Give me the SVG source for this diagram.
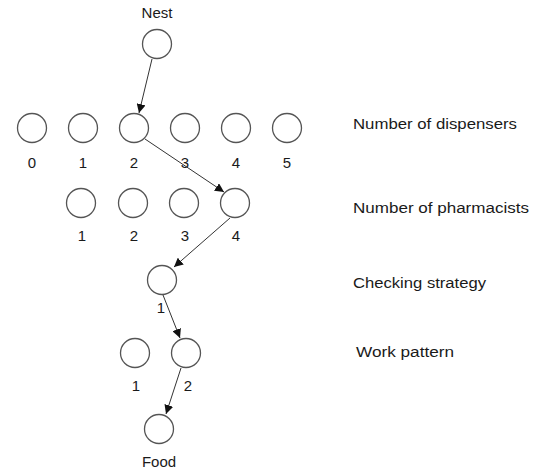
<svg xmlns="http://www.w3.org/2000/svg" width="538" height="474" viewBox="0 0 538 474">
<style>
text{font-family:"Liberation Sans",Arial,sans-serif;font-size:15px;fill:#1a1a1a}
.n{text-anchor:middle}
.l{font-size:15.5px}
circle{fill:#fff;stroke:#555;stroke-width:1.3}
.c line{stroke:#333;stroke-width:1}
</style>
<defs>
<marker id="a" viewBox="0 0 10 10" refX="10" refY="5" markerWidth="9" markerHeight="9" markerUnits="userSpaceOnUse" orient="auto"><path d="M0,0L10,5L0,10z" fill="#111"/></marker>
</defs>
<rect width="538" height="474" fill="#fff"/>
<g id="nest"><circle cx="157" cy="44" r="14.5"/><text class="n" x="157" y="18">Nest</text></g>
<g id="d0"><circle cx="32" cy="128" r="14.5"/><text class="n" x="32" y="168">0</text></g>
<g id="d1"><circle cx="83" cy="128" r="14.5"/><text class="n" x="83" y="168">1</text></g>
<g id="d2"><circle cx="134" cy="128" r="14.5"/><text class="n" x="134" y="168">2</text></g>
<g id="d3"><circle cx="185" cy="128" r="14.5"/><text class="n" x="185" y="168">3</text></g>
<g id="d4"><circle cx="236" cy="128" r="14.5"/><text class="n" x="236" y="168">4</text></g>
<g id="d5"><circle cx="287" cy="128" r="14.5"/><text class="n" x="287" y="168">5</text></g>
<g id="p1"><circle cx="81" cy="203" r="14.5"/><text class="n" x="82" y="241">1</text></g>
<g id="p2"><circle cx="133" cy="203" r="14.5"/><text class="n" x="134" y="241">2</text></g>
<g id="p3"><circle cx="184" cy="203" r="14.5"/><text class="n" x="185" y="241">3</text></g>
<g id="p4"><circle cx="235" cy="203" r="14.5"/><text class="n" x="236" y="241">4</text></g>
<g id="c1"><circle cx="162" cy="280" r="14.5"/><text class="n" x="161" y="313">1</text></g>
<g id="w1"><circle cx="135" cy="353" r="14.5"/><text class="n" x="136" y="391">1</text></g>
<g id="w2"><circle cx="186" cy="353" r="14.5"/><text class="n" x="188" y="391">2</text></g>
<g id="food"><circle cx="159" cy="429" r="14.5"/><text class="n" x="159" y="467">Food</text></g>
<g id="labels">
<text class="l" x="353" y="129" textLength="164" lengthAdjust="spacingAndGlyphs">Number of dispensers</text>
<text class="l" x="353" y="213" textLength="176" lengthAdjust="spacingAndGlyphs">Number of pharmacists</text>
<text class="l" x="353" y="288" textLength="133" lengthAdjust="spacingAndGlyphs">Checking strategy</text>
<text class="l" x="356" y="357" textLength="98" lengthAdjust="spacingAndGlyphs">Work pattern</text>
</g>
<g class="c" id="connectors">
<line x1="152" y1="59" x2="139" y2="113" marker-end="url(#a)"/>
<line x1="145" y1="139" x2="224" y2="192" marker-end="url(#a)"/>
<line x1="230" y1="218" x2="174" y2="267" marker-end="url(#a)"/>
<line x1="163" y1="295" x2="180" y2="338" marker-end="url(#a)"/>
<line x1="181" y1="368" x2="166" y2="414" marker-end="url(#a)"/>
</g>
</svg>
